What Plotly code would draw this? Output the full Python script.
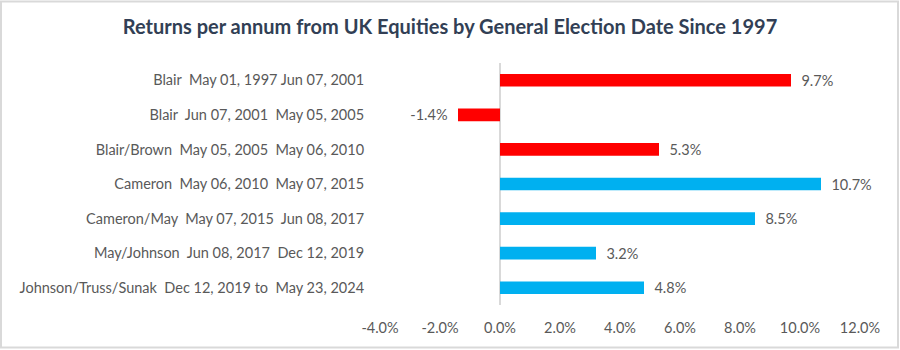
import plotly.graph_objects as go

NB = "\u00a0"

categories = [
    "Blair  May 01, 1997 Jun 07, 2001",
    "Blair  Jun 07, 2001  May 05, 2005",
    "Blair/Brown  May 05, 2005  May 06, 2010",
    "Cameron  May 06, 2010  May 07, 2015",
    "Cameron/May  May 07, 2015  Jun 08, 2017",
    "May/Johnson  Jun 08, 2017  Dec 12, 2019",
    "Johnson/Truss/Sunak  Dec 12, 2019 to  May 23, 2024",
]
returns_pct = [9.7, -1.4, 5.3, 10.7, 8.5, 3.2, 4.8]
party = ["Labour", "Labour", "Labour", "Conservative", "Conservative", "Conservative", "Conservative"]
party_colors = {"Labour": "#FF0000", "Conservative": "#00B0F0"}
x_ticks = [-4, -2, 0, 2, 4, 6, 8, 10, 12]
x_tick_labels = ["-4.0%", "-2.0%", "0.0%", "2.0%", "4.0%", "6.0%", "8.0%", "10.0%", "12.0%"]

labels_y = [c.replace("  ", NB + " ") for c in categories]
colors = [party_colors[p] for p in party]
texts = [
    (NB * 2 + f"{v:.1f}%") if v >= 0 else (f"{v:.1f}%" + NB * 2)
    for v in returns_pct
]

FONT = "Lato"
GREY = "#595959"
FS = 14.5

fig = go.Figure(
    go.Bar(
        x=returns_pct,
        y=labels_y,
        orientation="h",
        marker=dict(color=colors, line=dict(width=0)),
        text=texts,
        textposition="outside",
        constraintext="none",
        textfont=dict(family=FONT, size=FS, color=GREY),
        cliponaxis=False,
        hoverinfo="skip",
    )
)

L, R, T, B = 380, 40, 63, 45
W, H = 900, 350
pw, ph = W - L - R, H - T - B

def px_x(px):
    return (px - L) / pw

def px_y(py):
    return (H - B - py) / ph

fig.update_layout(
    width=W,
    height=H,
    margin=dict(l=L, r=R, t=T, b=B, pad=0),
    paper_bgcolor="white",
    plot_bgcolor="white",
    bargap=0.635,
    showlegend=False,
    title=dict(
        text="<b>Returns per annum from UK Equities by General Election Date Since 1997</b>",
        x=0.5,
        xanchor="center",
        y=1 - 27 / H,
        yanchor="middle",
        yref="container",
        font=dict(family=FONT, size=20, color="#323F55"),
    ),
    xaxis=dict(
        range=[-4, 12],
        tickmode="array",
        tickvals=x_ticks,
        ticktext=x_tick_labels,
        showgrid=False,
        showline=False,
        zeroline=True,
        zerolinecolor="#D9D9D9",
        zerolinewidth=1.5,
        ticks="outside",
        ticklen=10,
        tickcolor="rgba(0,0,0,0)",
        tickfont=dict(family=FONT, size=FS, color=GREY),
    ),
    yaxis=dict(
        autorange="reversed",
        showgrid=False,
        showline=False,
        zeroline=False,
        ticks="outside",
        ticklen=12,
        tickcolor="rgba(0,0,0,0)",
        tickfont=dict(family=FONT, size=FS, color=GREY),
    ),
    shapes=[
        dict(
            type="rect",
            xref="paper",
            yref="paper",
            x0=px_x(1),
            x1=px_x(898),
            y0=px_y(347.5),
            y1=px_y(1.5),
            line=dict(color="#D9D9D9", width=2),
            fillcolor="rgba(0,0,0,0)",
            layer="below",
        )
    ],
)

fig.write_html("out.html")
